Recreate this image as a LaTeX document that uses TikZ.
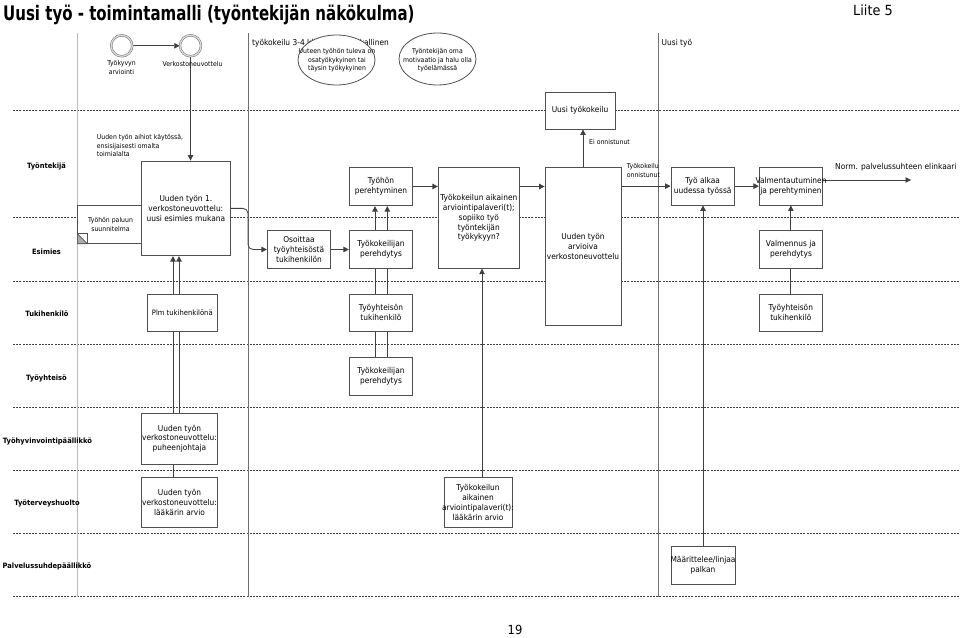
\documentclass[tikz,border=0pt]{standalone}
\usepackage{fontspec}
\setmainfont{DejaVu Sans}[FakeStretch=0.92]
\newfontfamily\ttlfont{DejaVu Sans}[FakeStretch=0.75]
\usetikzlibrary{arrows.meta,shapes.geometric,backgrounds}
\newcommand\bodyfnt{\fontsize{8.1}{9.8}\selectfont}
\newcommand\smallfnt{\fontsize{6.7}{8.4}\selectfont}
\newcommand\lanefnt{\fontsize{7.3}{9}\selectfont\bfseries}
\definecolor{linec}{HTML}{404040}
\definecolor{boxc}{HTML}{505050}
\definecolor{phasec}{HTML}{707070}
\definecolor{colc}{HTML}{BBBBBB}
\tikzset{
  lane/.style={draw=linec, line width=0.6pt, dash pattern=on 2pt off 1.2pt},
  phase/.style={draw=phasec, line width=1pt},
  collin/.style={draw=colc, line width=0.8pt},
  conn/.style={draw=linec, line width=0.8pt},
  arr/.style={conn, -{Triangle[length=5.5pt,width=5.5pt]}},
  bx/.style={draw=boxc, fill=white, line width=0.8pt, rectangle, inner sep=0pt},
  bt/.style={font=\bodyfnt, align=center, inner sep=0pt},
  st/.style={font=\smallfnt, align=center, inner sep=0pt},
  lanelbl/.style={font=\lanefnt, inner sep=0pt},
  ell/.style={draw=boxc, fill=white, line width=0.8pt, ellipse, inner sep=0pt},
  evt/.style={draw=black!55, double=gray!30, double distance=1.3pt, fill=white, circle, line width=0.5pt, minimum size=21pt, inner sep=0pt},
}
\newcommand\mybox[6]{\node[bx, minimum width=#4pt, minimum height=#5pt] (#1) at (#2,#3) {};
  \node[bt] (#1t) at (#1.center) {#6};}
\begin{document}
\begin{tikzpicture}[x=1pt,y=-1pt]
\useasboundingbox (0,0) rectangle (960,637);

% titles
\node[anchor=base west, inner sep=0pt, font=\ttlfont\fontsize{20}{24}\selectfont\bfseries] (title) at (3,20) {Uusi työ - toimintamalli (työntekijän näkökulma)};
\node[anchor=base west, inner sep=0pt, font=\fontsize{14}{16}\selectfont] (liite) at (853,15.5) {Liite 5};
\node[inner sep=0pt, font=\fontsize{12.5}{14}\selectfont] (page) at (515,630) {19};

% phase labels
\node[anchor=west, font=\bodyfnt, inner sep=0pt] (phl1) at (252,43) {työkokeilu 3-4 kk,};
\node[anchor=east, font=\bodyfnt, inner sep=0pt] (phl2) at (389,43) {paikallinen};
\node[anchor=west, font=\bodyfnt, inner sep=0pt] (uusityo) at (661.5,43) {Uusi työ};

% events
\node[evt] (c1) at (121.7,45.8) {};
\node[evt] (c2) at (190.5,45.8) {};
\node[st] (c1l) at (121.5,67.5) {Työkyvyn\\arviointi};
\node[st] (c2l) at (192.5,64) {Verkostoneuvottelu};

% ellipses
\node[ell, minimum width=77pt, minimum height=50pt] (e1) at (336.5,60) {};
\node[st] (e1t) at (337,60.5) {Uuteen työhön tuleva on\\osatyökykyinen tai\\täysin työkykyinen};
\node[ell, minimum width=77pt, minimum height=52pt] (e2) at (437.5,59) {};
\node[st] (e2t) at (437.5,60.5) {Työntekijän oma\\motivaatio ja halu olla\\työelämässä};

% lane labels
\node[lanelbl] (ltt) at (46.5,166) {Työntekijä};
\node[lanelbl] (les) at (46.5,251.5) {Esimies};
\node[lanelbl] (ltu) at (47,313.5) {Tukihenkilö};
\node[lanelbl] (lty) at (46.5,378) {Työyhteisö};
\node[lanelbl] (lhv) at (47.5,441.5) {Työhyvinvointipäällikkö};
\node[lanelbl] (lth) at (47,503) {Työterveyshuolto};
\node[lanelbl] (lps) at (47,566.5) {Palvelussuhdepäällikkö};

% notes
\node[st, anchor=west, align=left] (note) at (96.7,145.6) {Uuden työn aihiot käytössä,\\ensisijaisesti omalta\\toimialalta};
\node[st, anchor=west] (eion) at (589,141.7) {Ei onnistunut};
\node[st, anchor=west, align=left] (tkon) at (626.7,170.5) {Työkokeilu\\onnistunut};
\node[anchor=west, font=\bodyfnt, inner sep=0pt] (norm) at (835,167.7) {Norm. palvelussuhteen elinkaari};
\coordinate (normend) at (911,180);
\coordinate (p1) at (248,33);

% boxes
\node[bx, minimum width=64pt, minimum height=37.6pt] (tps) at (109.7,224.5) {};
\node[st] (tpst) at (110.5,224.3) {Työhön paluun\\suunnitelma};
\filldraw[fill=gray!65, draw=boxc, line width=0.6pt] (tps.south west) -- ([yshift=10pt]tps.south west) -- ([xshift=10pt]tps.south west) -- cycle;
\draw[boxc, line width=0.6pt] ([yshift=10pt]tps.south west) -| ([xshift=10pt]tps.south west);
\mybox{uu1}{185.85}{208.35}{88.3}{94.7}{Uuden työn 1.\\verkostoneuvottelu:\\uusi esimies mukana}
\mybox{os}{299}{249.5}{63.4}{37.6}{Osoittaa\\työyhteisöstä\\tukihenkilön}
\mybox{tke}{381}{249.5}{63.4}{37.6}{Työkokeilijan\\perehdytys}
\mybox{tp}{381}{186.5}{63.4}{38.4}{Työhön\\perehtyminen}
\mybox{tk}{478.8}{218}{81}{100.6}{Työkokeilun aikainen\\arviointipalaveri(t);\\sopiiko työ\\työntekijän\\työkykyyn?}
\mybox{arv}{583}{246.35}{76}{157.3}{Uuden työn\\arvioiva\\verkostoneuvottelu}
\mybox{uk}{580}{110.5}{70}{37}{Uusi työkokeilu}
\mybox{ta}{702.65}{186.15}{63.3}{37.7}{Työ alkaa\\uudessa työssä}
\mybox{vm}{791}{186.15}{63.4}{37.7}{Valmentautuminen\\ja perehtyminen}
\mybox{vp}{791}{249.5}{63.4}{37.6}{Valmennus ja\\perehdytys}
\node[bx, minimum width=70pt, minimum height=37.7pt] (plm) at (182.3,312.85) {};
\node[bt, font=\fontsize{7.4}{9.8}\selectfont] (plmt) at (plm.center) {Plm tukihenkilönä};
\mybox{tth1}{381}{312.85}{63.4}{37.7}{Työyhteisön\\tukihenkilö}
\mybox{tth2}{790.85}{312.85}{63.7}{37.7}{Työyhteisön\\tukihenkilö}
\mybox{tyh}{381}{376.15}{63.4}{37.7}{Työkokeilijan\\perehdytys}
\mybox{pj}{179.5}{438.65}{75.6}{50.7}{Uuden työn\\verkostoneuvottelu:\\puheenjohtaja}
\mybox{lk1}{179.5}{502.5}{75.6}{50.4}{Uuden työn\\verkostoneuvottelu:\\lääkärin arvio}
\mybox{lk2}{478}{502.5}{68}{50.4}{Työkokeilun\\aikainen\\arviointipalaveri(t):\\lääkärin arvio}
\mybox{ml}{703}{565}{64}{38}{Määrittelee/linjaa\\palkan}

\begin{pgfonlayer}{background}
  % lanes
  \foreach \yy in {110.5,217.7,281.3,344,407,470.7,533.3,596.7}
    \draw[lane] (13,\yy) -- (960,\yy);
  \draw[collin] (77.7,33) -- (77.7,596.7);
  \draw[phase] (248,33) -- (248,596.7);
  \draw[phase] (658.3,33) -- (658.3,596.7);
  % connectors
  \draw[arr] (c1) -- (c2);
  \draw[arr] (c2.south) -- (c2.south |- uu1.north);
  \draw[arr, rounded corners=5pt] (uu1.east) -- (uu1.east -| p1) -- (os.west -| p1) -- (os.west);
  \draw[arr] (os.east) -- (tke.west);
  \draw[arr] ([xshift=-6pt]tyh.north) -- ([xshift=-6pt]tyh.north |- tp.south);
  \draw[arr] ([xshift=6.3pt]tyh.north) -- ([xshift=6.3pt]tyh.north |- tp.south);
  \draw[arr] (tp.east) -- (tp.east -| tk.west);
  \draw[arr] (tk.east |- tp.east) -- (tp.east -| arv.west);
  \draw[arr] (arv.north) -- (arv.north |- uk.south);
  \draw[arr] (arv.east |- ta.west) -- (ta.west);
  \draw[arr] (ta.east) -- (vm.west);
  \draw[arr] (vm.east |- normend) -- (normend);
  \draw[arr] (tth2.north) -- (tth2.north |- vm.south);
  \draw[arr] (ml.north) -- (ml.north |- ta.south);
  \draw[arr] ([xshift=4pt]lk2.north) -- ([xshift=4pt]lk2.north |- tk.south);
  \draw[arr] ([xshift=-6.5pt]lk1.north) -- ([xshift=-6.5pt]lk1.north |- uu1.south);
  \draw[arr] ([xshift=-0.5pt]pj.north) -- ([xshift=-0.5pt]pj.north |- uu1.south);
\end{pgfonlayer}
\end{tikzpicture}
\end{document}
